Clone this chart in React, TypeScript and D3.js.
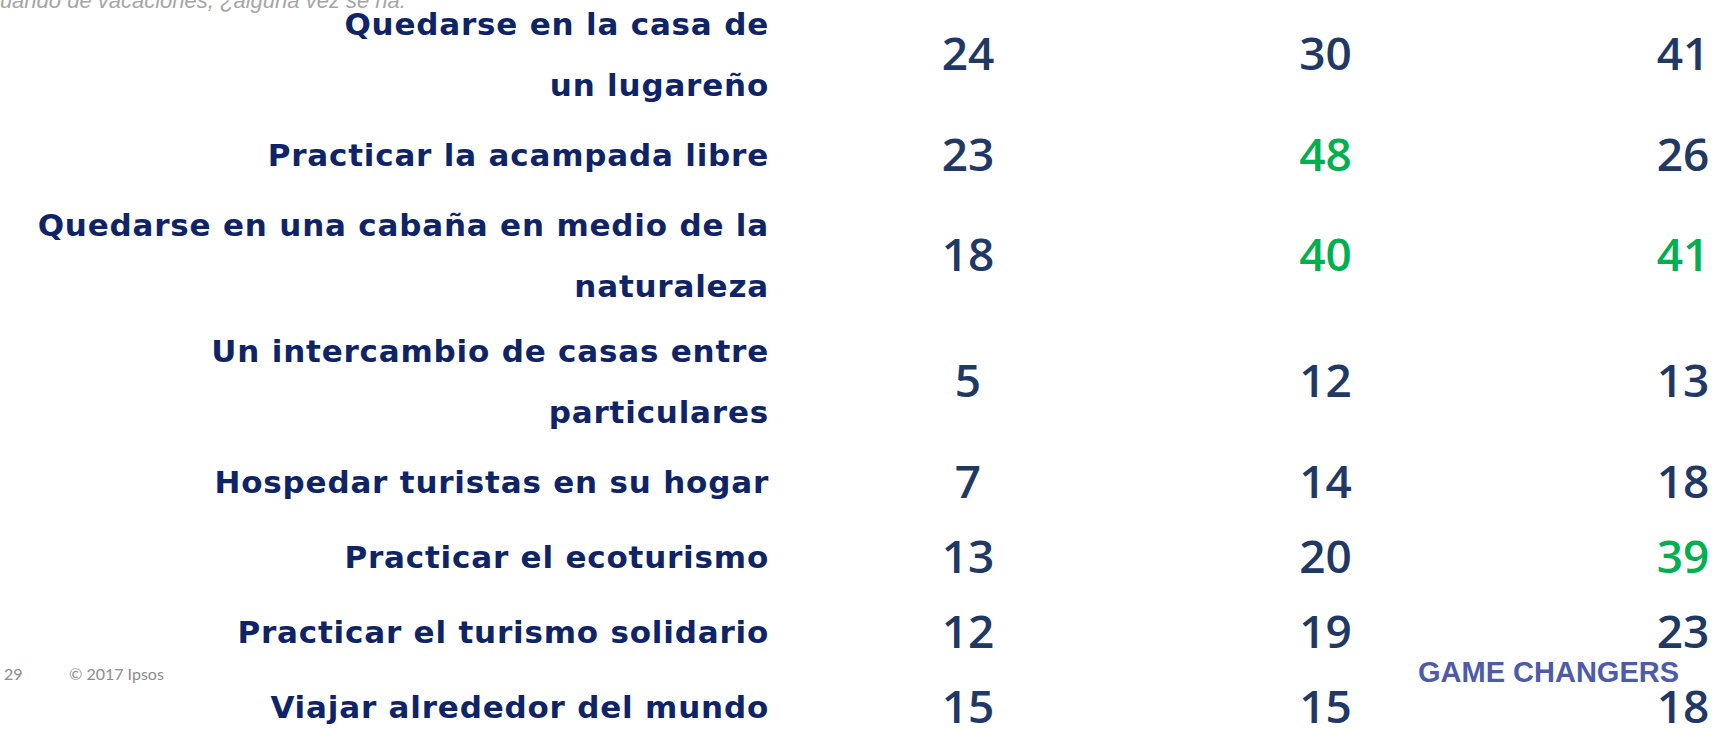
import * as d3 from 'd3';
import React from 'react';

// row labels, already broken into lines like the slide
const activities: string[][] = [
	['Quedarse en la casa de', 'un lugareño'],
	['Practicar la acampada libre'],
	['Quedarse en una cabaña en medio de la', 'naturaleza'],
	['Un intercambio de casas entre', 'particulares'],
	['Hospedar turistas en su hogar'],
	['Practicar el ecoturismo'],
	['Practicar el turismo solidario'],
	['Viajar alrededor del mundo'],
];

// the three value columns (headers are off the slide)
const seriesA = [24, 23, 18, 5, 7, 13, 12, 15];
const seriesB = [30, 48, 40, 12, 14, 20, 19, 15];
const seriesC = [41, 26, 41, 13, 18, 39, 23, 18];

// which cells are highlighted in green
const highlightA = [false, false, false, false, false, false, false, false];
const highlightB = [false, true, true, false, false, false, false, false];
const highlightC = [false, false, true, false, false, true, false, false];

const questionText = 'Cuando de vacaciones, ¿alguna vez se ha:';
const pageNumber = '29';
const copyright = '© 2017 Ipsos';
const brand = 'GAME CHANGERS';

const WIDTH = 1714;
const HEIGHT = 729;

const NAVY = '#0f2466';
const NUM = '#1f3864';
const GREEN = '#00b050';

const App = (): React.JSX.Element => {
	const series = [seriesA, seriesB, seriesC];
	const highlights = [highlightA, highlightB, highlightC];

	// row heights grow with the number of label lines
	const oneLine = 75;
	const twoLine = 126;
	const heights = activities.map(lines => (lines.length > 1 ? twoLine : oneLine));
	const tops = d3.cumsum([0, ...heights]);
	const rowScale = d3.scaleLinear().domain([0, d3.sum(heights)]).range([-9, d3.sum(heights) - 9]);
	const rowCenter = (i: number) => rowScale(tops[i] + heights[i] / 2);

	const xScale = d3.scalePoint<number>()
		.domain(series.map((_, i) => i))
		.range([968, 1683]);

	const labelRight = 769;
	const labelSize = 31;
	const labelLine = 61;
	const numSize = 46;

	return (
		<svg
			width={WIDTH}
			height={HEIGHT}
			style={{ position: 'absolute', left: 0, top: 0, display: 'block', background: '#fff' }}
		>
			<text
				x={-16}
				y={8}
				fontFamily="'Liberation Sans', Arial, sans-serif"
				fontStyle="italic"
				fontSize={22}
				fill="#a6a6a6"
			>
				{questionText}
			</text>

			{activities.map((lines, i) => {
				const c = rowCenter(i);
				const first = c - ((lines.length - 1) * labelLine) / 2;
				return (
					<text
						key={`label-${i}`}
						textAnchor="end"
						fontFamily="'DejaVu Sans', Verdana, sans-serif"
						fontWeight="bold"
						fontSize={labelSize}
						letterSpacing={0.8}
						fill={NAVY}
					>
						{lines.map((line, j) => (
							<tspan key={j} x={labelRight} y={first + j * labelLine + labelSize * 0.36}>
								{line}
							</tspan>
						))}
					</text>
				);
			})}

			{series.map((values, s) =>
				values.map((v, i) => (
					<text
						key={`v-${s}-${i}`}
						x={xScale(s) ?? 0}
						y={rowCenter(i) + numSize * 0.357}
						textAnchor="middle"
						fontFamily="'Open Sans', sans-serif"
						fontWeight={600}
						fontSize={numSize}
						fill={highlights[s][i] ? GREEN : NUM}
					>
						{v}
					</text>
				)),
			)}

			<text x={4} y={680} fontFamily="Lato, 'Open Sans', sans-serif" fontSize={16} fill="#8c8c8c">
				{pageNumber}
			</text>
			<text x={69} y={680} fontFamily="Lato, 'Open Sans', sans-serif" fontSize={16} fill="#8c8c8c">
				{copyright}
			</text>
			<text
				x={1418}
				y={682}
				fontFamily="'Liberation Sans', Arial, sans-serif"
				fontWeight="bold"
				fontSize={29}
				fill="#4e5ba8"
			>
				{brand}
			</text>
		</svg>
	);
};

export default App;
